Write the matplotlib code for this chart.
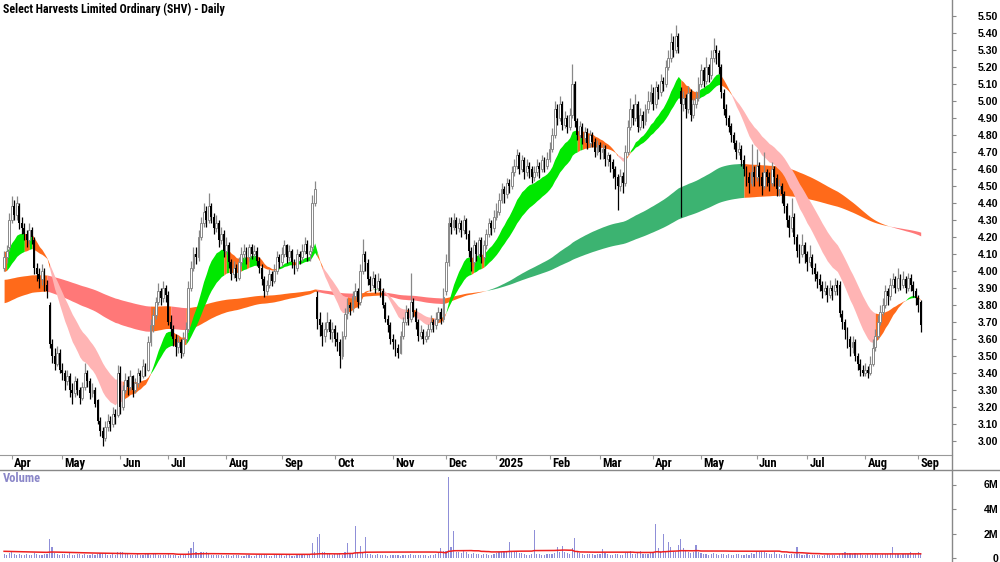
import numpy as np
import pandas as pd
import matplotlib
matplotlib.use("Agg")
import matplotlib.pyplot as plt
from matplotlib.lines import Line2D
from matplotlib.transforms import blended_transform_factory

# ASX trading days shown on the chart
holidays = ["2024-03-29", "2024-04-01", "2024-04-25", "2024-06-10", "2024-12-25", "2024-12-26",
            "2025-01-01", "2025-01-27", "2025-04-18", "2025-04-21", "2025-04-25", "2025-06-09"]
dates = pd.bdate_range("2024-03-26", "2025-09-02", freq="C", holidays=holidays)

# daily prices, one line per month (Mar+Apr 2024 ... Sep 2025)
opens = [
    4.02, 4.08, 4.14, 4.30, 4.38, 4.33, 4.38, 4.28, 4.25, 4.22, 4.18, 4.24, 4.18, 4.02, 3.98, 3.95, 4.00, 3.92, 3.80, 3.57, 3.50, 3.45, 3.52,
    3.42, 3.40, 3.35, 3.38, 3.30, 3.28, 3.35, 3.30, 3.25, 3.32, 3.40, 3.35, 3.28, 3.30, 3.24, 3.12, 3.06, 3.02, 3.08, 3.12, 3.10, 3.16, 3.15,
    3.40, 3.20, 3.30, 3.36, 3.32, 3.38, 3.30, 3.34, 3.40, 3.38, 3.44, 3.42, 3.58, 3.68, 3.74, 3.82, 3.88, 3.84, 3.90,
    3.86, 3.70, 3.66, 3.60, 3.55, 3.58, 3.52, 3.60, 3.66, 3.90, 4.02, 4.10, 4.08, 4.20, 4.28, 4.35, 4.30, 4.38, 4.32, 4.25, 4.28, 4.18, 4.22,
    4.12, 4.15, 4.05, 3.98, 4.02, 3.96, 4.05, 4.10, 4.12, 4.08, 4.14, 4.10, 4.12, 4.06, 4.02, 3.95, 3.88, 3.92, 3.98, 3.94, 4.00, 4.08,
    4.05, 4.10, 4.15, 4.08, 4.12, 4.05, 4.02, 4.10, 4.08, 4.12, 4.16, 4.10, 4.14, 4.40, 3.85, 3.72, 3.68, 3.62, 3.66, 3.70, 3.64,
    3.66, 3.60, 3.58, 3.50, 3.62, 3.75, 3.80, 3.78, 3.85, 3.88, 3.82, 4.00, 4.10, 4.05, 3.95, 3.92, 3.96, 3.90, 3.94, 3.88, 3.80, 3.72, 3.68,
    3.60, 3.58, 3.55, 3.52, 3.62, 3.70, 3.76, 3.72, 3.82, 3.76, 3.70, 3.62, 3.64, 3.60, 3.62, 3.66, 3.70, 3.68, 3.72, 3.76, 3.72,
    3.88, 4.05, 4.28, 4.26, 4.30, 4.25, 4.28, 4.24, 4.30, 4.22, 4.12, 4.05, 4.15, 4.10, 4.18, 4.08, 4.15, 4.22, 4.28, 4.25,
    4.32, 4.35, 4.42, 4.48, 4.45, 4.52, 4.50, 4.58, 4.62, 4.68, 4.60, 4.65, 4.58, 4.62, 4.60, 4.55, 4.58, 4.62, 4.60, 4.65, 4.62,
    4.66, 4.72, 4.80, 4.95, 4.90, 4.98, 4.86, 4.90, 4.85, 4.92, 5.10, 4.88, 4.80, 4.85, 4.78, 4.82, 4.75, 4.80, 4.76, 4.70,
    4.74, 4.70, 4.72, 4.66, 4.68, 4.64, 4.60, 4.55, 4.50, 4.56, 4.52, 4.70, 4.85, 4.95, 4.90, 4.98, 4.85, 4.92, 4.88, 4.95, 5.00,
    5.05, 4.98, 5.08, 5.05, 5.12, 5.10, 5.20, 5.25, 5.35, 5.30, 5.38, 5.06, 4.98, 5.02, 4.95, 5.05, 4.92, 4.98, 5.02,
    5.10, 5.18, 5.12, 5.20, 5.15, 5.25, 5.30, 5.28, 5.20, 5.05, 4.95, 4.90, 4.85, 4.80, 4.75, 4.70, 4.72, 4.65, 4.60, 4.55, 4.52, 4.58,
    4.55, 4.62, 4.55, 4.50, 4.58, 4.55, 4.52, 4.60, 4.55, 4.48, 4.50, 4.45, 4.38, 4.30, 4.25, 4.32, 4.20, 4.12, 4.10, 4.15,
    4.10, 4.05, 4.08, 4.02, 3.98, 3.95, 3.92, 3.88, 3.90, 3.86, 3.90, 3.88, 3.92, 3.92, 3.75, 3.70, 3.65, 3.60, 3.55, 3.58, 3.50, 3.45, 3.42,
    3.40, 3.42, 3.40, 3.45, 3.55, 3.62, 3.70, 3.76, 3.80, 3.88, 3.85, 3.92, 3.95, 3.90, 3.96, 3.92, 3.95, 3.90, 3.96, 3.92, 3.88,
    3.84, 3.82,
]
highs = [
    4.12, 4.15, 4.34, 4.44, 4.42, 4.44, 4.40, 4.32, 4.28, 4.24, 4.28, 4.26, 4.20, 4.05, 4.02, 4.04, 4.02, 3.95, 3.82, 3.60, 3.55, 3.56, 3.54,
    3.46, 3.42, 3.42, 3.40, 3.34, 3.38, 3.37, 3.32, 3.35, 3.46, 3.42, 3.37, 3.34, 3.32, 3.25, 3.14, 3.08, 3.12, 3.16, 3.15, 3.20, 3.19, 3.45,
    3.44, 3.33, 3.40, 3.38, 3.42, 3.39, 3.37, 3.43, 3.42, 3.48, 3.46, 3.62, 3.72, 3.78, 3.85, 3.93, 3.90, 3.94, 3.92,
    3.88, 3.74, 3.68, 3.63, 3.62, 3.60, 3.64, 3.70, 3.94, 4.06, 4.14, 4.14, 4.24, 4.32, 4.40, 4.38, 4.46, 4.40, 4.34, 4.33, 4.30, 4.26, 4.24,
    4.20, 4.17, 4.07, 4.06, 4.04, 4.08, 4.14, 4.16, 4.14, 4.16, 4.16, 4.15, 4.14, 4.08, 4.04, 3.97, 3.95, 4.01, 4.00, 4.04, 4.12, 4.10,
    4.14, 4.18, 4.16, 4.15, 4.13, 4.07, 4.13, 4.12, 4.16, 4.20, 4.18, 4.15, 4.45, 4.53, 3.88, 3.76, 3.70, 3.70, 3.76, 3.72, 3.70,
    3.68, 3.64, 3.60, 3.65, 3.78, 3.84, 3.82, 3.88, 3.93, 3.90, 4.04, 4.19, 4.12, 4.07, 3.97, 4.00, 3.98, 3.99, 3.96, 3.90, 3.82, 3.74, 3.70,
    3.63, 3.60, 3.57, 3.65, 3.73, 3.80, 3.78, 3.99, 3.84, 3.78, 3.72, 3.68, 3.66, 3.65, 3.69, 3.74, 3.72, 3.76, 3.79, 3.78, 3.90,
    4.10, 4.32, 4.32, 4.34, 4.32, 4.31, 4.30, 4.33, 4.31, 4.24, 4.14, 4.18, 4.17, 4.20, 4.20, 4.18, 4.25, 4.31, 4.30, 4.36,
    4.40, 4.46, 4.52, 4.50, 4.55, 4.54, 4.62, 4.66, 4.72, 4.70, 4.68, 4.67, 4.66, 4.64, 4.62, 4.62, 4.66, 4.64, 4.68, 4.67, 4.70,
    4.76, 4.84, 5.00, 4.98, 5.03, 5.00, 4.94, 4.92, 4.96, 5.22, 5.12, 4.90, 4.88, 4.87, 4.85, 4.84, 4.83, 4.82, 4.78, 4.77,
    4.76, 4.75, 4.74, 4.70, 4.69, 4.66, 4.62, 4.57, 4.60, 4.58, 4.74, 4.89, 5.02, 4.98, 5.04, 5.00, 4.96, 4.94, 4.98, 5.06, 5.10,
    5.08, 5.12, 5.10, 5.16, 5.14, 5.24, 5.30, 5.40, 5.38, 5.45, 5.40, 5.08, 5.06, 5.04, 5.09, 5.07, 5.02, 5.06, 5.14,
    5.22, 5.20, 5.26, 5.22, 5.30, 5.37, 5.33, 5.30, 5.22, 5.07, 4.98, 4.92, 4.87, 4.82, 4.77, 4.76, 4.74, 4.68, 4.62, 4.58, 4.75, 4.62,
    4.72, 4.64, 4.58, 4.70, 4.60, 4.58, 4.64, 4.62, 4.57, 4.54, 4.52, 4.47, 4.40, 4.33, 4.43, 4.34, 4.22, 4.16, 4.22, 4.17,
    4.12, 4.15, 4.10, 4.05, 4.00, 3.98, 3.94, 3.94, 3.92, 3.95, 3.92, 3.96, 3.95, 3.94, 3.77, 3.72, 3.67, 3.62, 3.62, 3.60, 3.52, 3.48, 3.45,
    3.46, 3.44, 3.50, 3.60, 3.66, 3.74, 3.80, 3.84, 3.92, 3.90, 3.96, 3.99, 3.97, 4.02, 3.98, 4.00, 3.97, 3.99, 3.98, 3.94, 3.90,
    3.86, 3.83,
]
lows = [
    4.00, 4.05, 4.12, 4.28, 4.30, 4.30, 4.25, 4.22, 4.18, 4.14, 4.16, 4.16, 3.98, 3.94, 3.90, 3.92, 3.88, 3.84, 3.55, 3.46, 3.42, 3.44, 3.40,
    3.36, 3.30, 3.33, 3.26, 3.22, 3.26, 3.27, 3.22, 3.24, 3.30, 3.32, 3.25, 3.26, 3.20, 3.10, 3.03, 2.97, 3.00, 3.06, 3.06, 3.08, 3.10, 3.14,
    3.16, 3.18, 3.28, 3.27, 3.30, 3.26, 3.28, 3.32, 3.35, 3.37, 3.38, 3.41, 3.56, 3.64, 3.72, 3.80, 3.80, 3.82, 3.82,
    3.68, 3.62, 3.56, 3.50, 3.52, 3.49, 3.50, 3.58, 3.64, 3.88, 4.00, 4.04, 4.06, 4.18, 4.26, 4.26, 4.28, 4.28, 4.22, 4.23, 4.14, 4.16, 4.08,
    4.10, 4.02, 3.95, 3.96, 3.94, 3.95, 4.03, 4.07, 4.04, 4.06, 4.07, 4.08, 4.03, 3.99, 3.92, 3.85, 3.86, 3.90, 3.91, 3.93, 3.98, 4.02,
    4.03, 4.08, 4.05, 4.06, 4.02, 3.98, 4.00, 4.04, 4.06, 4.10, 4.06, 4.06, 4.12, 4.38, 3.66, 3.62, 3.56, 3.58, 3.64, 3.60, 3.58,
    3.56, 3.53, 3.43, 3.48, 3.60, 3.72, 3.74, 3.76, 3.83, 3.78, 3.80, 3.98, 4.00, 3.92, 3.88, 3.90, 3.87, 3.88, 3.85, 3.78, 3.70, 3.64, 3.57,
    3.54, 3.50, 3.49, 3.51, 3.60, 3.68, 3.68, 3.70, 3.73, 3.66, 3.59, 3.60, 3.57, 3.58, 3.60, 3.64, 3.64, 3.66, 3.70, 3.69, 3.70,
    3.86, 4.03, 4.22, 4.24, 4.22, 4.23, 4.20, 4.22, 4.19, 4.08, 4.00, 4.03, 4.06, 4.08, 4.05, 4.06, 4.13, 4.20, 4.21, 4.23,
    4.30, 4.33, 4.40, 4.40, 4.43, 4.46, 4.48, 4.56, 4.60, 4.57, 4.58, 4.54, 4.56, 4.55, 4.52, 4.53, 4.56, 4.55, 4.58, 4.58, 4.60,
    4.64, 4.70, 4.78, 4.86, 4.88, 4.83, 4.84, 4.81, 4.83, 4.90, 4.85, 4.77, 4.78, 4.75, 4.76, 4.72, 4.73, 4.73, 4.67, 4.68,
    4.66, 4.66, 4.62, 4.62, 4.58, 4.55, 4.48, 4.36, 4.47, 4.46, 4.50, 4.68, 4.83, 4.86, 4.88, 4.82, 4.83, 4.84, 4.86, 4.93, 4.98,
    4.95, 4.96, 5.01, 5.03, 5.06, 5.08, 5.18, 5.23, 5.26, 5.28, 5.28, 4.32, 4.94, 4.90, 4.93, 4.88, 4.90, 4.96, 5.00,
    5.08, 5.08, 5.10, 5.11, 5.13, 5.23, 5.22, 5.16, 5.02, 4.92, 4.86, 4.82, 4.76, 4.72, 4.66, 4.68, 4.62, 4.56, 4.50, 4.46, 4.50, 4.50,
    4.53, 4.50, 4.45, 4.48, 4.50, 4.47, 4.50, 4.50, 4.44, 4.44, 4.40, 4.34, 4.26, 4.20, 4.23, 4.16, 4.08, 4.05, 4.08, 4.05,
    4.00, 4.03, 3.98, 3.94, 3.90, 3.88, 3.84, 3.86, 3.82, 3.84, 3.83, 3.86, 3.86, 3.73, 3.66, 3.60, 3.55, 3.50, 3.52, 3.47, 3.42, 3.38, 3.38,
    3.38, 3.37, 3.39, 3.44, 3.53, 3.60, 3.68, 3.74, 3.78, 3.80, 3.83, 3.90, 3.87, 3.88, 3.89, 3.90, 3.87, 3.88, 3.88, 3.85, 3.80,
    3.76, 3.64,
]
closes = [
    4.08, 4.12, 4.30, 4.38, 4.33, 4.40, 4.28, 4.25, 4.22, 4.18, 4.24, 4.20, 4.02, 3.98, 3.95, 4.00, 3.92, 3.88, 3.57, 3.50, 3.45, 3.52, 3.42,
    3.40, 3.35, 3.38, 3.30, 3.28, 3.35, 3.30, 3.25, 3.32, 3.40, 3.35, 3.28, 3.30, 3.22, 3.12, 3.06, 3.02, 3.08, 3.12, 3.10, 3.16, 3.14, 3.40,
    3.20, 3.30, 3.36, 3.32, 3.38, 3.30, 3.34, 3.40, 3.38, 3.44, 3.42, 3.58, 3.68, 3.74, 3.82, 3.88, 3.84, 3.90, 3.86,
    3.70, 3.66, 3.60, 3.55, 3.58, 3.52, 3.60, 3.66, 3.90, 4.02, 4.10, 4.08, 4.20, 4.28, 4.35, 4.30, 4.38, 4.32, 4.25, 4.28, 4.18, 4.22, 4.12,
    4.15, 4.05, 3.98, 4.02, 3.96, 4.05, 4.10, 4.12, 4.08, 4.14, 4.10, 4.12, 4.06, 4.02, 3.95, 3.88, 3.92, 3.98, 3.94, 4.00, 4.08, 4.05,
    4.10, 4.15, 4.08, 4.12, 4.05, 4.02, 4.10, 4.08, 4.12, 4.16, 4.10, 4.12, 4.40, 4.48, 3.72, 3.68, 3.62, 3.66, 3.70, 3.64, 3.66,
    3.60, 3.58, 3.50, 3.62, 3.75, 3.80, 3.78, 3.85, 3.88, 3.82, 4.00, 4.10, 4.05, 3.95, 3.92, 3.96, 3.90, 3.94, 3.88, 3.80, 3.72, 3.68, 3.60,
    3.58, 3.55, 3.52, 3.62, 3.70, 3.76, 3.72, 3.82, 3.76, 3.70, 3.62, 3.64, 3.60, 3.62, 3.66, 3.70, 3.68, 3.72, 3.76, 3.72, 3.85,
    4.05, 4.28, 4.26, 4.30, 4.25, 4.28, 4.24, 4.30, 4.22, 4.12, 4.05, 4.15, 4.10, 4.18, 4.08, 4.15, 4.22, 4.28, 4.25, 4.32,
    4.35, 4.42, 4.48, 4.45, 4.52, 4.50, 4.58, 4.62, 4.68, 4.60, 4.65, 4.58, 4.62, 4.60, 4.55, 4.58, 4.62, 4.60, 4.65, 4.62, 4.66,
    4.72, 4.80, 4.95, 4.90, 4.98, 4.86, 4.90, 4.85, 4.92, 5.10, 4.88, 4.80, 4.85, 4.78, 4.82, 4.75, 4.80, 4.76, 4.70, 4.74,
    4.70, 4.72, 4.66, 4.68, 4.64, 4.60, 4.55, 4.50, 4.56, 4.52, 4.70, 4.85, 4.95, 4.90, 4.98, 4.85, 4.92, 4.88, 4.95, 5.00, 5.05,
    4.98, 5.08, 5.05, 5.12, 5.10, 5.20, 5.25, 5.35, 5.30, 5.38, 5.32, 4.98, 5.02, 4.95, 5.05, 4.92, 4.98, 5.02, 5.10,
    5.18, 5.12, 5.20, 5.15, 5.25, 5.30, 5.28, 5.20, 5.05, 4.95, 4.90, 4.85, 4.80, 4.75, 4.70, 4.72, 4.65, 4.60, 4.55, 4.52, 4.58, 4.55,
    4.62, 4.55, 4.50, 4.58, 4.55, 4.52, 4.60, 4.55, 4.48, 4.50, 4.45, 4.38, 4.30, 4.25, 4.32, 4.20, 4.12, 4.10, 4.15, 4.10,
    4.05, 4.08, 4.02, 3.98, 3.95, 3.92, 3.88, 3.90, 3.86, 3.90, 3.88, 3.92, 3.90, 3.75, 3.70, 3.65, 3.60, 3.55, 3.58, 3.50, 3.45, 3.42, 3.40,
    3.42, 3.40, 3.45, 3.55, 3.62, 3.70, 3.76, 3.80, 3.88, 3.85, 3.92, 3.95, 3.90, 3.96, 3.92, 3.95, 3.90, 3.96, 3.92, 3.88, 3.84,
    3.80, 3.68,
]
# volume in millions of shares
volumes = [
    0.35, 0.28, 0.40, 0.45, 0.30, 0.25, 0.32, 0.28, 0.22, 0.30, 0.26, 0.24, 0.38, 0.30, 0.27, 0.22, 0.30, 0.35, 1.55, 0.90, 0.40, 0.32, 0.28,
    0.35, 0.30, 0.26, 0.40, 0.28, 0.24, 0.33, 0.30, 0.27, 0.35, 0.25, 0.22, 0.30, 0.28, 0.36, 0.42, 0.38, 0.30, 0.27, 0.25, 0.32, 0.28, 0.45,
    0.50, 0.48, 0.35, 0.30, 0.28, 0.26, 0.24, 0.30, 0.27, 0.25, 0.32, 0.30, 0.28, 0.40, 0.35, 0.27, 0.25, 0.28, 0.24,
    0.30, 0.26, 0.22, 0.25, 0.20, 0.24, 0.30, 0.35, 0.55, 0.80, 1.30, 0.45, 0.40, 0.50, 0.52, 0.48, 0.30, 0.28, 0.25, 0.22, 0.26, 0.24, 0.20,
    0.25, 0.22, 0.20, 0.24, 0.26, 0.22, 0.20, 0.18, 0.22, 0.25, 0.20, 0.18, 0.22, 0.26, 0.24, 0.30, 0.22, 0.20, 0.18, 0.22, 0.26, 0.24,
    0.22, 0.20, 0.25, 0.22, 0.18, 0.20, 0.24, 0.22, 0.26, 0.30, 0.28, 0.35, 1.20, 0.50, 1.70, 1.95, 0.50, 0.45, 0.30, 0.35, 0.28,
    0.30, 0.35, 0.40, 0.28, 0.45, 1.20, 0.40, 0.35, 2.60, 0.45, 1.00, 0.40, 1.70, 0.35, 0.30, 0.28, 0.25, 0.30, 0.22, 0.26, 0.24, 0.20, 0.25,
    0.22, 0.26, 0.24, 0.20, 0.22, 0.25, 0.28, 0.30, 0.24, 0.22, 0.26, 0.28, 0.25, 0.22, 0.20, 0.24, 0.28, 0.30, 0.40, 0.80, 0.60,
    0.55, 6.60, 0.90, 2.20, 0.50, 0.45, 0.40, 0.60, 0.45, 0.35, 0.30, 0.40, 0.35, 0.30, 0.28, 0.35, 0.30, 0.25, 0.28, 0.32,
    0.40, 0.45, 0.50, 0.55, 0.48, 1.30, 0.60, 0.55, 0.45, 0.40, 0.38, 0.30, 0.28, 0.26, 0.30, 2.30, 0.35, 0.30, 0.28, 0.25, 0.30,
    0.32, 0.30, 0.40, 0.90, 0.45, 1.00, 0.50, 0.40, 0.35, 0.80, 1.60, 0.45, 0.40, 0.30, 0.28, 0.35, 0.30, 0.32, 0.28, 0.30,
    0.35, 0.70, 0.40, 0.30, 0.28, 0.25, 0.30, 0.35, 0.28, 0.26, 0.40, 0.45, 0.60, 0.35, 0.30, 0.40, 0.60, 0.35, 0.32, 0.30, 0.38,
    0.40, 2.80, 0.80, 0.60, 1.95, 0.50, 1.30, 0.90, 0.60, 0.50, 1.10, 1.55, 0.80, 0.60, 0.45, 0.40, 0.50, 1.05, 0.45,
    0.40, 0.35, 0.30, 0.28, 0.35, 0.40, 0.30, 0.28, 0.35, 0.30, 0.26, 0.30, 0.28, 0.25, 0.30, 0.32, 0.28, 0.25, 0.30, 0.28, 0.40, 0.35,
    0.60, 0.45, 0.55, 0.50, 0.40, 0.35, 0.30, 0.45, 0.35, 0.30, 0.28, 0.35, 0.30, 0.28, 0.32, 0.35, 0.90, 0.30, 0.28, 0.25,
    0.30, 0.28, 0.25, 0.22, 0.26, 0.24, 0.20, 0.22, 0.30, 0.25, 0.28, 0.22, 0.20, 0.35, 0.40, 0.45, 0.38, 0.42, 0.35, 0.40, 0.30, 0.38, 0.28,
    0.25, 0.30, 0.28, 0.35, 0.40, 0.30, 0.28, 0.32, 0.35, 0.30, 0.40, 0.90, 0.35, 0.30, 0.28, 0.32, 0.30, 0.35, 0.45, 0.30, 0.35,
    0.50, 0.40,
]

# ribbon settings: (fast, slow) EMA periods and their values before the first bar
short_periods = (16, 30)
short_seed = (4.12, 3.99)
long_periods = (150, 250)
long_seed = (3.81, 3.95)
vol_avg_seed = 0.55

title = "Select Harvests Limited Ordinary (SHV) - Daily"
narrow = ["Roboto Condensed", "Liberation Sans", "DejaVu Sans"]
tickfont = ["Liberation Sans", "DejaVu Sans"]

o = np.array(opens); h = np.array(highs); l = np.array(lows); c = np.array(closes)
vol = np.array(volumes)
n = len(c)
x = np.arange(n)


def ema(values, span, seed):
    a = 2.0 / (span + 1)
    out = []
    e = seed
    for v in values:
        e = e + a * (v - e)
        out.append(e)
    return np.array(out)


def ribbon_state(fast, slow, fseed, sseed):
    # 0 = rising and in bull order, 1 = falling and in bear order, 2 = mixed
    fprev = np.concatenate([[fseed], fast[:-1]])
    sprev = np.concatenate([[sseed], slow[:-1]])
    up = (fast > slow) & (fast > fprev) & (slow > sprev)
    down = (fast < slow) & (fast < fprev) & (slow < sprev)
    return np.where(up, 0, np.where(down, 1, 2))


def draw_ribbon(ax, lo, hi, state, colors):
    start = 0
    for k in range(1, n + 1):
        if k == n or state[k] != state[start]:
            end = min(k + 1, n)
            ax.fill_between(x[start:end], lo[start:end], hi[start:end],
                            color=colors[state[start]], lw=0, zorder=1)
            start = k


W, H = 1000, 562
fig = plt.figure(figsize=(W / 100, H / 100), dpi=100)
ax = fig.add_axes([0, 1 - 455 / H, 952 / W, 455 / H])
axv = fig.add_axes([0, 0, 952 / W, 92 / H])

# ribbons
sf = ema(c, short_periods[0], short_seed[0]); ss = ema(c, short_periods[1], short_seed[1])
lf = ema(c, long_periods[0], long_seed[0]); ls = ema(c, long_periods[1], long_seed[1])
draw_ribbon(ax, np.minimum(lf, ls), np.maximum(lf, ls), ribbon_state(lf, ls, *long_seed),
            ["#3cb371", "#ff7878", "#ff6a1a"])
draw_ribbon(ax, np.minimum(sf, ss), np.maximum(sf, ss), ribbon_state(sf, ss, *short_seed),
            ["#00e800", "#ffb4b4", "#ff6a1a"])

# candles
up = c >= o
ax.vlines(x[up], l[up], h[up], color="#888888", lw=0.9, zorder=3)
ax.vlines(x[~up], l[~up], h[~up], color="black", lw=0.9, zorder=3)
ax.bar(x[up], np.maximum(c - o, 0.006)[up], bottom=o[up], width=0.75,
       facecolor="white", edgecolor="#888888", lw=0.7, zorder=4)
ax.bar(x[~up], (o - c)[~up], bottom=c[~up], width=0.75, color="black", lw=0, zorder=4)

ax.set_xlim(-1.62, 375.4)
ax.set_ylim(3.0 - 14 / 170, 3.0 + 441 / 170)

for s in ["top", "left", "right"]:
    ax.spines[s].set_visible(False)
ax.spines["bottom"].set_color("#999999")

ax.yaxis.tick_right()
yt = np.round(np.arange(3.0, 5.501, 0.1), 2)
ax.set_yticks(yt)
ax.set_yticklabels([f"{v:.2f}" for v in yt], ha="right")
ax.tick_params(axis="y", direction="out", length=3, color="#888888", pad=30.5, labelsize=7.6)
for t in ax.get_yticklabels():
    t.set_fontweight("bold")
    t.set_family(tickfont)

# month ticks at first trading day of each month
month_idx = [k for k in range(1, n) if dates[k].month != dates[k - 1].month]
ax.set_xticks(month_idx)
ax.tick_params(axis="x", direction="out", length=3, color="#999999", labelbottom=False)
tr = blended_transform_factory(ax.transData, ax.transAxes)
for k in month_idx:
    lab = str(dates[k].year) if dates[k].month == 1 else dates[k].strftime("%b")
    ax.text(k + 0.9, -8.5 / 455, lab, transform=tr, ha="left", va="center",
            fontsize=9, fontweight="bold", family=narrow)

# volume panel
axv.bar(x, vol, width=0.45, color="#8f8fd8", lw=0, zorder=2)
vavg = pd.Series(np.concatenate([[vol_avg_seed] * 49, vol])).rolling(50).mean().to_numpy()[49:]
axv.plot(x, vavg, color="#ee2020", lw=1.1, zorder=3)
axv.set_xlim(-1.62, 375.4)
axv.set_ylim(-4 / 12.25, 88 / 12.25)
for s in ["top", "left", "bottom", "right"]:
    axv.spines[s].set_visible(False)
axv.set_xticks([])
axv.yaxis.tick_right()
axv.set_yticks([0, 2, 4, 6])
axv.set_yticklabels(["0", "2M", "4M", "6M"], ha="right")
axv.tick_params(axis="y", direction="out", length=3, color="#888888", pad=30.5, labelsize=7.6)
for t in axv.get_yticklabels():
    t.set_fontweight("bold")
    t.set_family(tickfont)

fig.add_artist(Line2D([0, 1], [1 - 470 / H] * 2, transform=fig.transFigure, color="#888888", lw=1))
fig.add_artist(Line2D([952 / W] * 2, [0, 1], transform=fig.transFigure, color="#888888", lw=1))

fig.text(3 / W, 1 - 9 / H, title, ha="left", va="center", fontsize=8.6, fontweight="bold", family=narrow)
fig.text(3 / W, 1 - 479 / H, "Volume", ha="left", va="center", fontsize=9, fontweight="bold",
         color="#8a86c8", family=narrow)

fig.savefig("out.png", dpi=100)
